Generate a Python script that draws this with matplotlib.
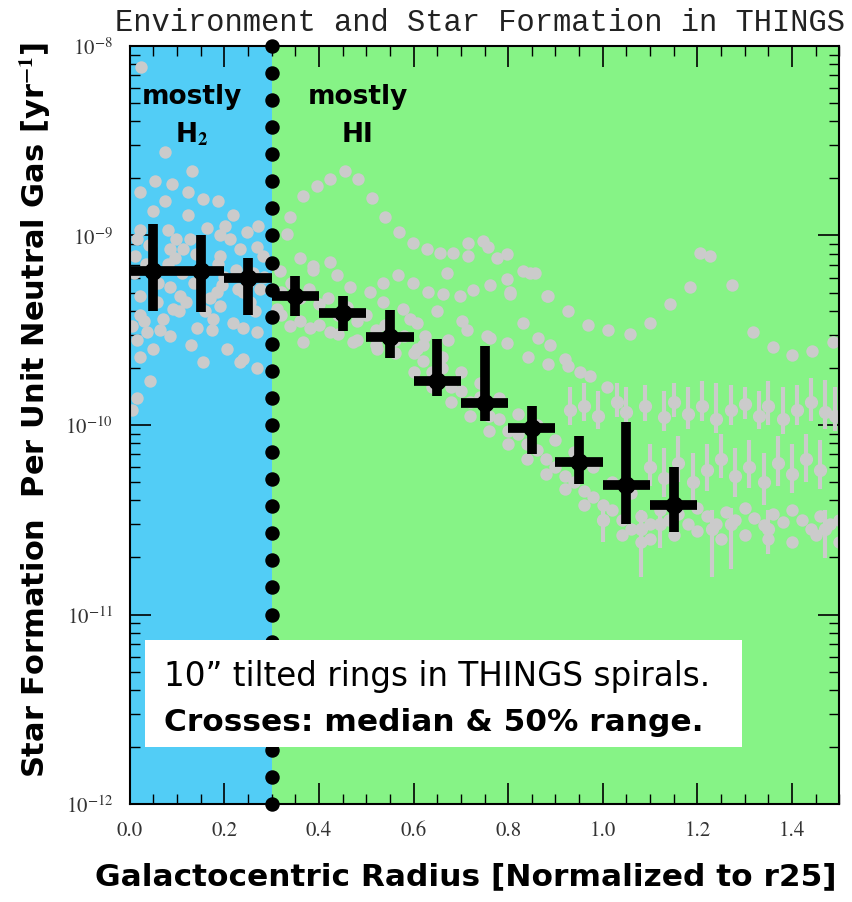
import numpy as np
import matplotlib
matplotlib.use("Agg")
import matplotlib.pyplot as plt
from matplotlib.patches import Rectangle
from matplotlib.ticker import (LogLocator, NullFormatter, FuncFormatter, MultipleLocator,
                               FixedLocator)

# binned medians (crosses): radius bin centre, median, 25th / 75th percentile
bin_r = [0.05, 0.15, 0.25, 0.35, 0.45, 0.55, 0.65, 0.75, 0.85, 0.95, 1.05, 1.15]
bin_halfwidth = [0.05] * 12
sfe_median = [6.5e-10, 6.5e-10, 6.0e-10, 4.8e-10, 3.9e-10, 2.9e-10,
              1.7e-10, 1.3e-10, 9.6e-11, 6.4e-11, 4.8e-11, 3.8e-11]
sfe_hi = [1.15e-9, 1.01e-9, 7.6e-10, 6.1e-10, 4.8e-10, 4.05e-10,
          2.84e-10, 2.6e-10, 1.26e-10, 8.75e-11, 1.04e-10, 6.0e-11]
sfe_lo = [4.0e-10, 3.95e-10, 3.8e-10, 3.76e-10, 3.13e-10, 2.26e-10,
          1.42e-10, 1.05e-10, 7.0e-11, 4.9e-11, 3.0e-11, 2.72e-11]

# axis ticks
x_ticks = [0.0, 0.2, 0.4, 0.6, 0.8, 1.0, 1.2, 1.4]
y_ticks = [1e-12, 1e-11, 1e-10, 1e-9, 1e-8]

# individual rings (grey), log10 of SFE
ring_r = [0.025, 0.074, 0.131, 0.053, 0.089, 0.021, 0.123, 0.074, 0.154, 0.186,
          0.049, 0.123, 0.218, 0.021, 0.080, 0.163, 0.201, 0.248, 0.271, 0.015,
          0.099, 0.127, 0.190, 0.212, 0.269, 0.011, 0.085, 0.112, 0.190, 0.233,
          0.281, 0.080, 0.186, 0.085, 0.106, 0.184, 0.275, 0.021, 0.091, 0.190,
          0.021, 0.070, 0.176, 0.218, 0.142, 0.239, 0.036, 0.269, 0.015, 0.085,
          0.205, 0.049, 0.154, 0.233, 0.269, 0.021, 0.042, 0.015, 0.006, 0.239,
          0.040, 0.060, 0.110, 0.140, 0.160, 0.200, 0.240, 0.260, 0.030, 0.120,
          0.010, 0.035, 0.058, 0.105, 0.135, 0.170, 0.225, 0.255, 0.285, 0.045,
          0.095, 0.150, 0.195, 0.230, 0.265, 0.005, 0.065, 0.130, 0.175, 0.250,
          0.366, 0.396, 0.423, 0.455, 0.482, 0.512, 0.539, 0.569, 0.599, 0.628,
          0.656, 0.683, 0.715, 0.747, 0.757, 0.715, 0.776, 0.798, 0.831, 0.857,
          0.338, 0.332, 0.360, 0.423, 0.387, 0.567, 0.535, 0.599, 0.630, 0.671,
          0.662, 0.698, 0.726, 0.762, 0.798, 0.804, 0.831, 0.882, 0.863, 0.798,
          0.755, 0.702, 0.713, 0.649, 0.624, 0.673, 0.607,
          0.317, 0.387, 0.438, 0.465, 0.508, 0.535, 0.578, 0.592, 0.311, 0.338,
          0.381, 0.423, 0.472, 0.523, 0.607, 0.366,
          0.846, 0.804, 0.884, 0.927, 0.969, 1.011, 1.058, 1.100, 1.142, 1.185,
          1.274, 1.318, 1.360, 1.400, 1.443, 1.487, 1.227, 1.206, 0.762, 0.842,
          0.889, 0.920, 0.884, 0.927, 0.952, 0.973, 1.009,
          0.32, 0.34, 0.36, 0.38, 0.40, 0.42, 0.44, 0.46, 0.48, 0.50,
          0.52, 0.54, 0.56, 0.58, 0.60, 0.62, 0.64, 0.66, 0.68, 0.70,
          0.72, 0.74, 0.76, 0.78, 0.80, 0.82, 0.84, 0.86, 0.88, 0.90,
          0.92, 0.94, 0.96, 0.98, 1.00, 1.02, 1.04, 1.06,
          0.32, 0.36, 0.40, 0.44, 0.48, 0.52, 0.56, 0.60, 0.64, 0.68,
          0.72, 0.76, 0.80, 0.84, 0.88, 0.92, 0.96, 1.00, 1.04, 1.08,
          0.62, 0.66, 0.70, 0.74, 0.78, 0.82, 0.86, 0.90, 0.94, 0.98, 1.02, 1.06,
          1.08, 1.10, 1.12, 1.14, 1.16, 1.18, 1.20, 1.22, 1.24, 1.26,
          1.28, 1.30, 1.32, 1.34, 1.36, 1.38, 1.40, 1.42, 1.44, 1.46, 1.48, 1.50,
          1.10, 1.15, 1.20, 1.25, 1.30, 1.35, 1.40, 1.45, 1.50]
ring_logsfe = [-8.11, -8.56, -8.66, -8.71, -8.73, -8.77, -8.77, -8.82, -8.81, -8.82,
               -8.87, -8.89, -8.89, -8.97, -8.97, -8.96, -8.95, -8.98, -8.95, -9.02,
               -9.02, -9.02, -9.00, -9.02, -9.06, -9.11, -9.07, -9.07, -9.11, -9.07,
               -9.11, -9.15, -9.15, -9.27, -9.32, -9.30, -9.28, -9.32, -9.39, -9.37,
               -9.42, -9.44, -9.44, -9.46, -9.49, -9.49, -9.51, -9.51, -9.55, -9.53,
               -9.60, -9.60, -9.67, -9.67, -9.70, -9.64, -9.77, -9.86, -9.92, -9.65,
               -9.05, -9.25, -9.20, -9.10, -9.40, -9.22, -9.30, -9.20, -9.45, -9.35,
               -9.20, -9.15, -9.35, -9.40, -9.25, -9.33, -9.18, -9.35, -9.22, -9.05,
               -9.12, -9.18, -9.26, -9.28, -9.40, -9.48, -9.50, -9.58, -9.50, -9.25,
               -8.79, -8.74, -8.70, -8.66, -8.70, -8.80, -8.90, -8.98, -9.04, -9.07,
               -9.09, -9.09, -9.04, -9.03, -9.06, -9.11, -9.12, -9.10, -9.19, -9.20,
               -8.90, -8.99, -9.12, -9.14, -9.16, -9.21, -9.25, -9.25, -9.30, -9.20,
               -9.31, -9.32, -9.29, -9.26, -9.23, -9.31, -9.46, -9.32, -9.54, -9.57,
               -9.53, -9.45, -9.50, -9.40, -9.53, -9.55, -9.46,
               -9.19, -9.18, -9.21, -9.27, -9.30, -9.35, -9.39, -9.44, -9.39, -9.48,
               -9.49, -9.51, -9.56, -9.60, -9.60, -9.56,
               -9.20, -9.30, -9.32, -9.40, -9.47, -9.50, -9.52, -9.46, -9.36, -9.27,
               -9.26, -9.51, -9.59, -9.63, -9.61, -9.56, -9.11, -9.09, -9.54, -9.64,
               -9.58, -9.65, -9.68, -9.69, -9.72, -9.74, -9.80,
               -9.30, -9.25, -9.33, -9.28, -9.36, -9.33, -9.42, -9.38, -9.45, -9.42,
               -9.50, -9.47, -9.55, -9.53, -9.62, -9.66, -9.72, -9.70, -9.80, -9.82,
               -9.88, -9.85, -9.95, -9.97, -10.03, -10.05, -10.10, -10.13, -10.18, -10.22,
               -10.27, -10.30, -10.35, -10.38, -10.42, -10.45, -10.50, -10.55,
               -9.42, -9.45, -9.47, -9.52, -9.55, -9.58, -9.62, -9.72, -9.80, -9.88,
               -9.95, -10.03, -10.10, -10.18, -10.26, -10.34, -10.42, -10.50, -10.58, -10.62,
               -9.58, -9.64, -9.72, -9.78, -9.86, -9.94, -10.00, -10.08, -10.14, -10.22, -10.30, -10.36,
               -10.48, -10.52, -10.45, -10.50, -10.47, -10.52, -10.44, -10.48, -10.52, -10.46,
               -10.50, -10.44, -10.49, -10.53, -10.47, -10.51, -10.45, -10.50, -10.55, -10.48, -10.52, -10.50,
               -10.60, -10.58, -10.56, -10.60, -10.58, -10.60, -10.62, -10.58, -10.62]

# outer rings shown with their own uncertainties (log10)
errring_r = [0.93, 0.96, 0.99, 1.03, 1.05, 1.09, 1.13, 1.15, 1.18, 1.21,
             1.24, 1.27, 1.30, 1.33, 1.35, 1.38, 1.41, 1.44, 1.47, 1.49,
             1.10, 1.13, 1.16, 1.19, 1.22, 1.25, 1.28, 1.31, 1.34, 1.37,
             1.40, 1.43, 1.46,
             1.00, 1.08, 1.12, 1.23, 1.27, 1.35, 1.47]
errring_log = [-9.92, -9.90, -9.95, -9.88, -9.93, -9.90, -9.96, -9.88, -9.94, -9.90,
               -9.97, -9.92, -9.89, -9.95, -9.90, -9.97, -9.92, -9.88, -9.93, -9.95,
               -10.22, -10.28, -10.20, -10.30, -10.24, -10.18, -10.27, -10.22, -10.30, -10.20,
               -10.26, -10.18, -10.24,
               -10.50, -10.55, -10.52, -10.55, -10.52, -10.55, -10.55]
errring_top = [-9.80, -9.78, -9.82, -9.78, -9.80, -9.79, -9.82, -9.78, -9.80, -9.77,
               -9.78, -9.79, -9.80, -9.82, -9.77, -9.80, -9.79, -9.75, -9.76, -9.80,
               -10.10, -10.12, -10.06, -10.15, -10.10, -10.05, -10.12, -10.08, -10.15, -10.06,
               -10.10, -10.05, -10.08,
               -10.42, -10.45, -10.44, -10.45, -10.44, -10.45, -10.45]
errring_bot = [-10.00, -9.98, -10.02, -9.96, -10.02, -9.98, -10.03, -9.96, -10.02, -9.98,
               -10.04, -10.00, -9.97, -10.02, -10.00, -10.05, -10.00, -9.98, -10.02, -10.03,
               -10.32, -10.38, -10.30, -10.40, -10.35, -10.28, -10.38, -10.33, -10.42, -10.32,
               -10.36, -10.30, -10.34,
               -10.62, -10.80, -10.65, -10.80, -10.76, -10.68, -10.70]

h2_edge = 0.3
blue = "#52cdf6"
green = "#86f386"
grey = "#cbcbcb"

plt.rcParams["mathtext.fontset"] = "stix"

fig = plt.figure(figsize=(8.53, 9.03), dpi=100)
ax = fig.add_axes([0.152, 0.1085, 0.832, 0.8395])

ax.axvspan(0, h2_edge, color=blue, lw=0, zorder=0)
ax.axvspan(h2_edge, 1.5, color=green, lw=0, zorder=0)

# grey rings with error bars
er_y = 10 ** np.array(errring_log)
er_lo = er_y - 10 ** np.array(errring_bot)
er_hi = 10 ** np.array(errring_top) - er_y
ax.errorbar(errring_r, er_y, yerr=[er_lo, er_hi], fmt="o", color=grey, ms=8.5,
            elinewidth=3, capsize=0, zorder=2)
ax.scatter(ring_r, 10 ** np.array(ring_logsfe), s=80, color=grey, lw=0, zorder=2)

# H2 / HI boundary: a column of big round dots, evenly spaced up the log axis
dot_y = np.logspace(-8, -12, 29)
ax.plot(np.full(dot_y.size, h2_edge), dot_y, "o", color="black", ms=9.4,
        zorder=3, clip_on=False)

med = np.array(sfe_median)
ax.errorbar(bin_r, med, xerr=bin_halfwidth,
            yerr=[med - np.array(sfe_lo), np.array(sfe_hi) - med],
            fmt="o", color="black", ms=12, elinewidth=7, capsize=0, zorder=4)

ax.set_xlim(0, 1.5)
ax.set_yscale("log")
ax.set_ylim(1e-12, 1e-8)

ax.xaxis.set_major_locator(FixedLocator(x_ticks))
ax.xaxis.set_minor_locator(MultipleLocator(0.05))
ax.xaxis.set_major_formatter(FuncFormatter(lambda v, p: f"{v:.1f}"))
ax.yaxis.set_major_locator(FixedLocator(y_ticks))
ax.yaxis.set_minor_locator(LogLocator(base=10, subs=np.arange(2, 10), numticks=20))
ax.yaxis.set_minor_formatter(NullFormatter())
ax.yaxis.set_major_formatter(FuncFormatter(lambda v, p: r"$10^{%d}$" % round(np.log10(v))))
ax.tick_params(which="both", direction="in", top=True, right=True, color="black",
               labelcolor="#333333", labelsize=15)
ax.tick_params(which="major", length=15, width=1.2, pad=12)
ax.tick_params(which="minor", length=7, width=1.0)
for lab in ax.get_xticklabels() + ax.get_yticklabels():
    lab.set_family("STIXGeneral")
for s in ax.spines.values():
    s.set_linewidth(1.5)

ax.text(0.131, 5.45e-9, "mostly", ha="center", va="center", fontsize=19,
        fontweight="bold", zorder=5)
ax.text(0.131, 3.43e-9, r"H$_\mathbf{2}$", ha="center", va="center", fontsize=19,
        fontweight="bold", zorder=5)
ax.text(0.482, 5.45e-9, "mostly", ha="center", va="center", fontsize=19,
        fontweight="bold", zorder=5)
ax.text(0.482, 3.43e-9, "HI", ha="center", va="center", fontsize=19,
        fontweight="bold", zorder=5)

ax.add_patch(Rectangle((0.021, 0.075), 0.842, 0.141, transform=ax.transAxes,
                       facecolor="white", edgecolor="none", zorder=6))
ax.text(0.049, 0.169, "10\u201d tilted rings in THINGS spirals.", transform=ax.transAxes,
        ha="left", va="center", fontsize=23.5, zorder=7)
ax.text(0.049, 0.1095, "Crosses: median & 50% range.", transform=ax.transAxes,
        ha="left", va="center", fontsize=22.5, fontweight="bold", zorder=7)

fig.text(115 / 853, 1 - 23 / 903, "Environment and Star Formation in THINGS",
         family="Liberation Mono", fontsize=22, color="#222222", ha="left", va="center")
fig.text(35 / 853, 1 - 410 / 903, "Star Formation  Per Unit Neutral Gas [yr$^{\\mathbf{-1}}$]",
         rotation=90, ha="center", va="center", fontsize=22, fontweight="bold")
fig.text(466 / 853, 1 - 877 / 903, "Galactocentric Radius [Normalized to r25]",
         ha="center", va="center", fontsize=22.5, fontweight="bold")

fig.savefig("out.png", dpi=100)
